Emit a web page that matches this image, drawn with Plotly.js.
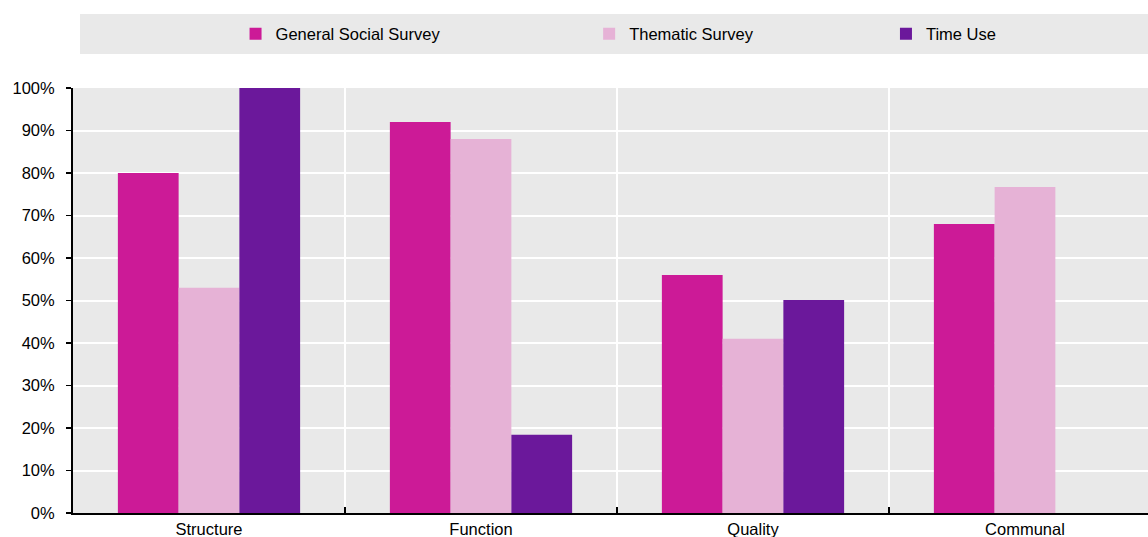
<!DOCTYPE html>
<html>
<head>
<meta charset="utf-8">
<script src="https://cdn.plot.ly/plotly-3.0.1.min.js"></script>
<style>
  html, body { margin: 0; padding: 0; overflow: hidden; background: #fff; }
  #chart { width: 1171px; height: 537px; }
</style>
</head>
<body>
<div id="chart"></div>
<script>
// Share of items covered, by dimension and survey
const categories = ['Structure', 'Function', 'Quality', 'Communal'];
const generalSocialSurvey = [0.80, 0.92, 0.56, 0.68];
const thematicSurvey = [0.53, 0.88, 0.41, 0.767];
const timeUse = [1.00, 0.184, 0.501, null];
const yTickValues = [0, 0.1, 0.2, 0.3, 0.4, 0.5, 0.6, 0.7, 0.8, 0.9, 1.0];

const FONT = 'Liberation Sans, Arial, sans-serif';
const FONT_SIZE = 16.5;
const BG = '#e9e9e9';

const traces = [
  { name: 'General Social Survey', y: generalSocialSurvey, color: '#cc1a97', legend: 'legend' },
  { name: 'Thematic Survey', y: thematicSurvey, color: '#e6b2d6', legend: 'legend2' },
  { name: 'Time Use', y: timeUse, color: '#6b189b', legend: 'legend3' }
].map(s => ({
  type: 'bar',
  name: s.name,
  x: categories,
  y: s.y,
  marker: { color: s.color, line: { width: 0 } },
  legend: s.legend,
  hoverinfo: 'x+y+name'
}));

const legendBase = {
  orientation: 'h',
  xanchor: 'left',
  yanchor: 'middle',
  y: 1.127,
  bgcolor: 'rgba(0,0,0,0)',
  borderwidth: 0,
  font: { family: FONT, size: FONT_SIZE, color: '#000' }
};

const layout = {
  width: 1171,
  height: 537,
  margin: { l: 73, r: 10, t: 88, b: 24 },
  paper_bgcolor: '#ffffff',
  plot_bgcolor: BG,
  font: { family: FONT, size: FONT_SIZE, color: '#000' },
  barmode: 'group',
  bargap: 0.33,
  bargroupgap: 0,
  showlegend: true,
  legend: Object.assign({}, legendBase, { x: 0.1494 }),
  legend2: Object.assign({}, legendBase, { x: 0.4744 }),
  legend3: Object.assign({}, legendBase, { x: 0.7472 }),
  xaxis: {
    type: 'category',
    tickson: 'boundaries',
    ticks: 'inside',
    ticklen: 6,
    tickwidth: 1.5,
    tickcolor: '#000',
    showline: true,
    linecolor: '#000',
    linewidth: 2,
    showgrid: true,
    gridcolor: '#ffffff',
    gridwidth: 2,
    tickfont: { family: FONT, size: FONT_SIZE, color: '#000' },
    fixedrange: true
  },
  yaxis: {
    range: [0, 1],
    tickvals: yTickValues,
    tickformat: '.0%',
    ticks: 'outside',
    ticklen: 5,
    tickwidth: 1.5,
    tickcolor: '#000',
    ticklabelstandoff: 8,
    showline: true,
    linecolor: '#000',
    linewidth: 2,
    showgrid: true,
    gridcolor: '#ffffff',
    gridwidth: 2,
    zeroline: false,
    tickfont: { family: FONT, size: FONT_SIZE, color: '#000' },
    fixedrange: true
  },
  shapes: [
    {
      type: 'rect', xref: 'paper', yref: 'paper',
      x0: 0.0064, x1: 1.02, y0: 1.08, y1: 1.174,
      fillcolor: BG, line: { width: 0 }, layer: 'below'
    }
  ]
};

Plotly.newPlot('chart', traces, layout, { displayModeBar: false, staticPlot: true });
</script>
</body>
</html>
